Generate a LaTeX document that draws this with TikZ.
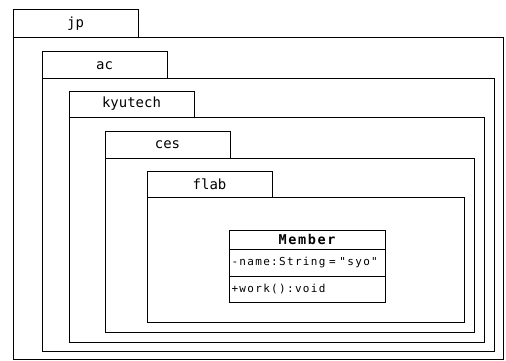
\documentclass[tikz,border=0pt]{standalone}
\usepackage{fontspec}
\usetikzlibrary{positioning}
\newfontfamily\tabfont{DejaVu Sans Mono}
\newfontfamily\umlfont[LetterSpace=12]{DejaVu Sans Mono}
\tikzset{
  pkgbody/.style={draw=black,line width=1pt,anchor=north west,inner sep=0pt,outer sep=0pt},
  tabbox/.style={draw=black,line width=1pt,anchor=south west,minimum width=125pt,minimum height=26pt,inner sep=0pt,outer sep=0pt,font=\tabfont\fontsize{14}{14}\selectfont},
  classhead/.style={draw=black,line width=1pt,anchor=north west,minimum width=156pt,minimum height=19pt,inner sep=0pt,outer sep=0pt,font=\umlfont\bfseries\fontsize{13.5}{13.5}\selectfont},
  classrow/.style={draw=black,line width=1pt,text width=151pt,align=left,inner sep=2.5pt,outer sep=0pt,font=\umlfont\fontsize{11}{11}\selectfont}
}
\begin{document}
\begin{tikzpicture}[x=1pt,y=-1pt]
  \useasboundingbox (0,0) rectangle (506,361);
  % package bodies
  \node[pkgbody,minimum width=490pt,minimum height=321pt] (jpbody) at (13,38) {};
  \node[pkgbody,minimum width=452pt,minimum height=272pt] (acbody) at (42,79) {};
  \node[pkgbody,minimum width=415pt,minimum height=225pt] (kyutechbody) at (69,117) {};
  \node[pkgbody,minimum width=369pt,minimum height=174pt] (cesbody) at (105,158) {};
  \node[pkgbody,minimum width=317pt,minimum height=125pt] (flabbody) at (147,197) {};
  % package tabs
  \node[tabbox,minimum height=28pt] (jptab) at (jpbody.north west) {jp};
  \node[tabbox,minimum height=27pt] (actab) at (acbody.north west) {ac};
  \node[tabbox] (kyutechtab) at (kyutechbody.north west) {kyutech};
  \node[tabbox,minimum height=27pt] (cestab) at (cesbody.north west) {ces};
  \node[tabbox] (flabtab) at (flabbody.north west) {flab};
  % class
  \node[classhead] (memberhead) at (229,230) {Member};
  \node[classrow,minimum height=27pt,below=0pt of memberhead] (memberattr) {-name:String = "syo"};
  \node[classrow,minimum height=26pt,below=0pt of memberattr] (memberop) {+work():void};
\end{tikzpicture}
\end{document}
